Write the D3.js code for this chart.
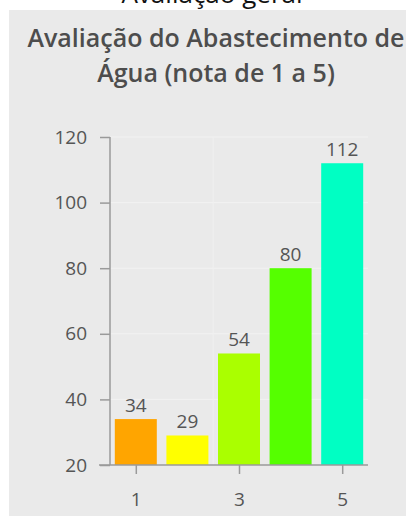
<!DOCTYPE html>
<html>
<head>
<meta charset="utf-8">
<script src="https://cdn.jsdelivr.net/npm/d3@7"></script>
<style>
body { margin: 0; background: #fff; }
svg { display: block; }
</style>
</head>
<body>
<svg id="canvas" width="411" height="516"></svg>
<script>
let notas = [1, 2, 3, 4, 5]
let valores = [34, 29, 54, 80, 112]
let cores = ["#ffa500", "#ffff00", "#aaff00", "#55ff00", "#00ffc3"]
let yTicks = [20, 40, 60, 80, 100, 120]
let xTicks = [1, 3, 5]
let titulo = ["Avaliação do Abastecimento de", "Água (nota de 1 a 5)"]

let canvas = d3.select("#canvas")
let font = "'Open Sans', sans-serif"

// painel cinza
canvas.append("rect")
    .attr("x", 9).attr("y", 10)
    .attr("width", 397).attr("height", 506)
    .attr("fill", "#eaeaea")

// titulo de cima, cortado como no original
canvas.append("text")
    .attr("x", 212).attr("y", 3)
    .attr("text-anchor", "middle")
    .style("font-family", font)
    .style("font-size", "26px")
    .attr("fill", "#111")
    .text("Avaliação geral")

canvas.selectAll(".titulo")
    .data(titulo)
    .enter()
    .append("text")
    .attr("class", "titulo")
    .attr("x", 216)
    .attr("y", (d, i) => 47 + i * 35)
    .attr("text-anchor", "middle")
    .style("font-family", font)
    .style("font-size", "25px")
    .style("font-weight", "600")
    .attr("fill", "#4d4d4d")
    .text((d) => d)

let xScale = d3.scaleLinear().domain([0.5, 5.5]).range([110, 368])
let yScale = d3.scaleLinear().domain([20, 120]).range([465, 137])

// grade
canvas.selectAll(".grid")
    .data(yTicks.slice(1))
    .enter()
    .append("line")
    .attr("x1", 110).attr("x2", 368)
    .attr("y1", (d) => yScale(d)).attr("y2", (d) => yScale(d))
    .attr("stroke", "#f2f2f2")
canvas.append("line")
    .attr("x1", xScale(2.5)).attr("x2", xScale(2.5))
    .attr("y1", 137).attr("y2", 465)
    .attr("stroke", "#f0f0f0")

canvas.selectAll(".bar")
    .data(valores)
    .enter()
    .append("rect")
    .attr("class", "bar")
    .attr("x", (d, i) => xScale(notas[i]) - 21)
    .attr("width", 42)
    .attr("y", (d) => yScale(d))
    .attr("height", (d) => yScale(20) - yScale(d))
    .attr("fill", (d, i) => cores[i])

canvas.selectAll(".rotulo")
    .data(valores)
    .enter()
    .append("text")
    .attr("class", "rotulo")
    .attr("x", (d, i) => xScale(notas[i]))
    .attr("y", (d) => yScale(d) - 7)
    .attr("text-anchor", "middle")
    .style("font-family", font)
    .style("font-size", "19px")
    .attr("fill", "#555")
    .text((d) => d)

let yAxis = d3.axisLeft(yScale).tickValues(yTicks).tickSize(10).tickPadding(13)
let gy = canvas.append("g").attr("transform", "translate(110,0)").call(yAxis)
gy.select(".domain").attr("d", "M0,137V465")

let xAxis = d3.axisBottom(xScale).tickValues(xTicks).tickFormat(d3.format("d")).tickSize(9).tickPadding(19)
let gx = canvas.append("g").attr("transform", "translate(0,465)").call(xAxis)
gx.select(".domain").attr("d", "M99,0H368")

canvas.selectAll(".domain, .tick line")
    .attr("stroke", "#9a9a9a")
    .attr("stroke-width", 1.5)
canvas.selectAll(".tick text")
    .style("font-family", font)
    .style("font-size", "19px")
    .attr("fill", "#555")
</script>
</body>
</html>
